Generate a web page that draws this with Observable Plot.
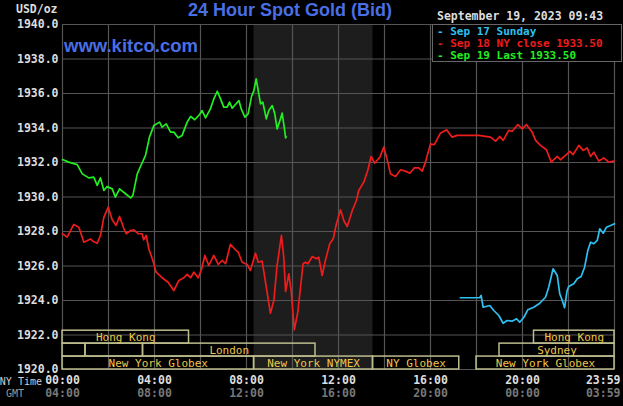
<!DOCTYPE html>
<html><head><meta charset="utf-8">
<script src="https://cdn.jsdelivr.net/npm/d3@7"></script>
<script src="https://cdn.jsdelivr.net/npm/@observablehq/plot@0.6"></script>
<style>
body{margin:0;background:#000;}
#wrap{position:relative;width:623px;height:406px;overflow:hidden;background:#000;}
#chart{position:absolute;left:0;top:0;}
.t{position:absolute;white-space:pre;font-family:"DejaVu Sans Mono",monospace;font-weight:bold;font-size:11.5px;line-height:13px;}
#title{position:absolute;left:290px;top:0px;transform:translateX(-50%);font-family:"Liberation Sans",Arial,sans-serif;font-weight:bold;font-size:18px;color:#4a6ee4;white-space:pre;}
#site{position:absolute;left:64px;top:35px;font-family:"Liberation Sans",Arial,sans-serif;font-weight:bold;font-size:18.5px;color:#4a6ee4;}
#legend{position:absolute;left:432px;top:24px;width:190px;height:38px;background:#000;border:1px solid #666;box-sizing:border-box;padding:1px 0 0 4px;}
</style></head>
<body>
<div id="wrap">
  <div id="chart"></div>
  <div id="title"></div>
  <div id="site"></div>
  <div class="t" id="unit" style="left:16px;top:3px;color:#ddd"></div>
  <div class="t" id="stamp" style="left:437px;top:10px;color:#ddd"></div>
  <div id="legend"></div>
  <div class="t" id="nyl" style="right:581px;top:376px;color:#ccc;font-weight:normal;font-size:10px;line-height:11px"></div>
  <div class="t" id="gmtl" style="right:599px;top:388px;color:#999;font-weight:normal;font-size:10px;line-height:11px"></div>
</div>
<script>
// ---- data ----
const sep19Hour = [0,0.27,0.64,0.86,1.14,1.36,1.51,1.65,1.80,1.94,2.16,2.30,2.48,2.74,2.96,3.06,3.25,3.39,3.61,3.78,3.97,4.22,4.33,4.51,4.70,4.84,5.03,5.20,5.42,5.57,5.75,5.96,6.07,6.22,6.43,6.58,6.73,6.87,7.01,7.16,7.26,7.38,7.52,7.67,7.77,7.93,8.07,8.22,8.32,8.42,8.51,8.61,8.71,8.86,8.97,9.12,9.23,9.33,9.43,9.55,9.65,9.70,9.72];
const sep19Price = [1932.17,1932.02,1931.88,1931.34,1931.11,1931.15,1930.67,1931.11,1930.38,1930.61,1930.47,1929.99,1930.47,1930.19,1929.95,1930.09,1931.34,1931.77,1932.41,1933.47,1934.14,1934.34,1934.05,1934.24,1933.76,1933.76,1933.43,1933.57,1934.34,1934.67,1934.48,1934.78,1935.01,1934.59,1935.11,1935.69,1936.13,1935.69,1935.21,1935.21,1935.50,1935.15,1935.36,1935.59,1935.11,1934.63,1934.82,1935.83,1936.17,1936.85,1936.17,1935.40,1935.50,1934.53,1935.01,1935.30,1934.82,1933.95,1934.34,1934.86,1933.95,1933.43,1933.50];

const sep18Hour = [0,0.2,0.49,0.71,0.93,1.22,1.32,1.51,1.65,1.80,1.99,2.16,2.33,2.48,2.67,2.77,2.96,3.10,3.29,3.46,3.53,3.64,3.75,3.93,4.07,4.33,4.59,4.84,5.06,5.28,5.42,5.57,5.71,5.90,6.04,6.19,6.36,6.58,6.77,6.94,7.09,7.30,7.52,7.64,7.81,8.03,8.17,8.39,8.51,8.68,8.86,9.04,9.19,9.33,9.52,9.62,9.70,9.84,9.94,10.08,10.23,10.46,10.57,10.67,10.86,11.04,11.14,11.29,11.43,11.62,11.77,11.91,12.09,12.23,12.38,12.60,12.78,12.88,13.10,13.27,13.42,13.57,13.80,13.97,14.09,14.26,14.48,14.70,14.91,15.10,15.30,15.49,15.64,15.78,16.00,16.17,16.43,16.70,16.94,17.16,17.60,18.10,18.61,18.83,19.01,19.16,19.40,19.55,19.80,19.99,20.17,20.42,20.57,20.78,21.04,21.25,21.33,21.51,21.65,21.87,22.06,22.20,22.45,22.64,22.81,22.96,23.10,23.32,23.53,23.75,23.98];
const sep18Price = [1927.87,1927.67,1928.41,1928.25,1927.38,1927.57,1927.44,1927.32,1927.77,1928.83,1929.41,1928.68,1928.35,1928.87,1928.16,1927.87,1928.06,1928.10,1927.87,1927.87,1927.52,1927.77,1927.00,1926.32,1925.64,1925.32,1925.06,1924.58,1925.16,1925.32,1925.51,1925.32,1925.64,1925.32,1925.78,1926.61,1926.03,1926.61,1926.09,1926.32,1926.13,1927.25,1926.94,1926.80,1926.22,1926.09,1925.74,1926.74,1926.22,1926.28,1924.77,1923.26,1924.00,1926.03,1927.77,1926.51,1924.52,1925.55,1924.58,1922.30,1923.32,1926.13,1926.22,1926.13,1926.55,1926.42,1926.51,1925.45,1926.32,1927.29,1927.58,1928.45,1929.26,1928.64,1928.29,1929.22,1929.80,1930.38,1930.86,1931.54,1932.35,1931.96,1932.31,1932.89,1932.31,1931.34,1931.19,1931.58,1931.50,1931.38,1931.69,1931.69,1931.50,1932.02,1933.08,1933.03,1933.70,1933.90,1933.47,1933.57,1933.57,1933.57,1933.47,1933.24,1933.51,1933.28,1933.86,1933.81,1934.20,1933.95,1934.20,1933.76,1933.28,1932.99,1932.74,1932.02,1932.12,1932.35,1932.16,1932.41,1932.65,1932.46,1932.99,1932.70,1932.85,1932.35,1932.60,1932.08,1932.27,1932.02,1932.08];

const sep17Hour = [17.30,18.14,18.20,18.29,18.58,18.75,18.97,19.16,19.33,19.55,19.74,19.88,20.06,20.23,20.49,20.75,21.00,21.14,21.33,21.51,21.62,21.73,21.83,21.94,22.01,22.23,22.38,22.55,22.70,22.84,22.96,23.10,23.25,23.36,23.51,23.65,23.83,24.00];
const sep17Price = [1924.16,1924.16,1924.29,1923.61,1923.71,1923.42,1923.13,1922.68,1922.84,1922.80,1922.94,1922.74,1923.03,1923.46,1923.61,1923.84,1924.19,1924.77,1925.84,1925.45,1924.39,1924.00,1923.58,1924.58,1924.81,1924.97,1925.26,1925.39,1925.93,1926.90,1927.38,1927.29,1927.48,1928.16,1927.90,1928.25,1928.35,1928.45];

const sessionName  = ["New York Globex","New York NYMEX","NY Globex","New York Globex","","","London","Sydney","Hong Kong","Hong Kong"];
const sessionStart = [0, 8.33, 13.5, 18.0, 0, 1.0, 3.5, 19.0, 0, 20.5];
const sessionEnd   = [8.33, 13.5, 17.25, 24, 1.0, 3.5, 11.0, 24, 5.5, 24];
const sessionRow   = [0, 0, 0, 0, 1, 1, 1, 1, 2, 2];

const comexStart = 8.33, comexEnd = 13.5;
const xTicks = [0, 4, 8, 12, 16, 20];
const xLastTick = [24];
const gridHours = [0,2,4,6,8,10,12,14,16,18,20,22,24];
const yTicks = [1920,1922,1924,1926,1928,1930,1932,1934,1936,1938,1940];

const legendLabels = ["Sep 17 Sunday", "Sep 18 NY close 1933.50", "Sep 19 Last 1933.50"];
const legendColors = ["#2ec0f0", "#ee1c1c", "#22ee22"];
const titleText = "24 Hour Spot Gold (Bid)";
const siteText = "www.kitco.com";
const unitText = "USD/oz";
const stampText = "September 19, 2023 09:43";

// ---- build ----
const toRows = (hs, ps) => hs.map((h, i) => ({h, p: ps[i]}));
const s17 = toRows(sep17Hour, sep17Price);
const s18 = toRows(sep18Hour, sep18Price);
const s19 = toRows(sep19Hour, sep19Price);
const rowH = 0.75;
const sessions = sessionName.map((n, i) => ({
  name: n, x1: sessionStart[i], x2: sessionEnd[i],
  y1: 1920 + sessionRow[i] * rowH, y2: 1920 + (sessionRow[i] + 1) * rowH,
  xm: (sessionStart[i] + sessionEnd[i]) / 2, ym: 1920 + (sessionRow[i] + 0.5) * rowH
}));
const pad = n => String(n).padStart(2, "0");
const nyFmt = h => h >= 24 ? "23:59" : pad(h) + ":00";
const gmtFmt = h => h >= 24 ? "03:59" : pad((h + 4) % 24) + ":00";

const chart = Plot.plot({
  width: 623, height: 406,
  marginLeft: 62, marginRight: 9, marginTop: 24, marginBottom: 37,
  style: {background: "#000", fontFamily: "'DejaVu Sans Mono', monospace", fontSize: "11.5px", fontWeight: "bold", overflow: "visible"},
  x: {domain: [0, 24]},
  y: {domain: [1920, 1940]},
  marks: [
    Plot.rect([{x1: comexStart, x2: comexEnd}], {x1: "x1", x2: "x2", y1: 1920, y2: 1940, fill: "#1c1d1c"}),
    Plot.ruleX(gridHours, {stroke: "#555", strokeWidth: 1.2}),
    Plot.ruleY(yTicks, {stroke: "#555", strokeWidth: 1.2}),
    Plot.rect(sessions, {x1: "x1", x2: "x2", y1: "y1", y2: "y2", stroke: "#bcbc8c", strokeWidth: 1.5, fill: "none"}),
    Plot.text(sessions, {x: "xm", y: "ym", text: "name", fill: "#eec64a", fontSize: 11, fontWeight: "normal"}),
    Plot.line(s18, {x: "h", y: "p", stroke: legendColors[1], strokeWidth: 1.7}),
    Plot.line(s17, {x: "h", y: "p", stroke: legendColors[0], strokeWidth: 1.7}),
    Plot.line(s19, {x: "h", y: "p", stroke: legendColors[2], strokeWidth: 1.7}),
    Plot.axisY({ticks: yTicks, tickSize: 0, tickPadding: 4, tickFormat: d3.format(".1f"), fill: "#ddd", label: null}),
    Plot.axisX({ticks: xTicks, tickSize: 0, tickPadding: 6, tickFormat: nyFmt, fill: "#ddd", label: null}),
    Plot.axisX({ticks: xLastTick, tickSize: 0, tickPadding: 6, tickFormat: nyFmt, fill: "#ddd", textAnchor: "end", dx: 6, label: null}),
    Plot.axisX({ticks: xTicks, tickSize: 0, tickPadding: 19, tickFormat: gmtFmt, fill: "#777", label: null}),
    Plot.axisX({ticks: xLastTick, tickSize: 0, tickPadding: 19, tickFormat: gmtFmt, fill: "#777", textAnchor: "end", dx: 6, label: null})
  ]
});
document.getElementById("chart").appendChild(chart);
document.getElementById("title").textContent = titleText;
document.getElementById("site").textContent = siteText;
document.getElementById("unit").textContent = unitText;
document.getElementById("stamp").textContent = stampText;
document.getElementById("nyl").textContent = "NY Time";
document.getElementById("gmtl").textContent = "GMT";
const lg = document.getElementById("legend");
legendLabels.forEach((l, i) => {
  const d = document.createElement("div");
  d.className = "t";
  d.style.position = "static";
  d.style.color = legendColors[i];
  d.style.fontSize = "11px";
  d.style.lineHeight = "12px";
  d.textContent = "- " + l;
  lg.appendChild(d);
});
</script>
</body></html>
